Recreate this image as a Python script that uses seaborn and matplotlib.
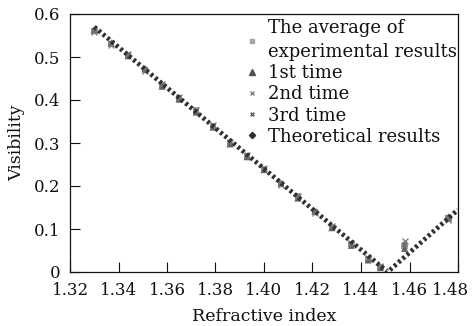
import matplotlib
matplotlib.use("Agg")
import matplotlib.pyplot as plt
import matplotlib.transforms as mtransforms
from matplotlib.lines import Line2D
import seaborn as sns

sns.set_theme(style="ticks")
plt.rcParams['font.family'] = ['DejaVu Serif']
plt.rcParams['mathtext.fontset'] = 'dejavuserif'

# Experimental data
n_exp = [1.330, 1.337, 1.344, 1.351, 1.358, 1.365, 1.372, 1.379, 1.386, 1.393,
         1.400, 1.407, 1.414, 1.421, 1.428, 1.436, 1.443, 1.448, 1.458, 1.476]
v_avg = [0.560, 0.530, 0.505, 0.470, 0.435, 0.405, 0.375, 0.340, 0.300, 0.270,
         0.240, 0.205, 0.175, 0.140, 0.105, 0.065, 0.030, 0.012, 0.060, 0.125]
v_1st = [0.563, 0.533, 0.503, 0.473, 0.432, 0.402, 0.372, 0.337, 0.298, 0.268,
         0.238, 0.207, 0.172, 0.142, 0.103, 0.062, 0.028, 0.010, 0.055, 0.128]
v_2nd = [0.558, 0.528, 0.507, 0.468, 0.437, 0.407, 0.377, 0.342, 0.302, 0.272,
         0.242, 0.203, 0.177, 0.138, 0.107, 0.067, 0.032, 0.014, 0.072, 0.122]
v_3rd = [0.561, 0.531, 0.504, 0.471, 0.434, 0.404, 0.374, 0.339, 0.301, 0.269,
         0.239, 0.206, 0.174, 0.141, 0.104, 0.064, 0.031, 0.011, 0.064, 0.126]

# Theoretical V curve
n_th = [1.330, 1.451, 1.480]
v_th = [0.570, 0.000, 0.145]

xticks = [1.32, 1.34, 1.36, 1.38, 1.40, 1.42, 1.44, 1.46, 1.48]
xticklabels = ["1.32", "1.34", "1.36", "1.38", "1.40", "1.42", "1.44", "1.46", "1.48"]
yticks = [0, 0.1, 0.2, 0.3, 0.4, 0.5, 0.6]
yticklabels = ["0", "0.1", "0.2", "0.3", "0.4", "0.5", "0.6"]

fig = plt.figure(figsize=(4.73, 3.26), dpi=100)
ax = fig.add_axes([70/473, 1-272/326, 388/473, 258/326])

sns.scatterplot(x=n_exp, y=v_avg, marker='s', s=22, color='#a0a0a0', edgecolor='none',
                label='The average of\nexperimental results', ax=ax, zorder=3)
sns.scatterplot(x=n_exp, y=v_1st, marker='^', s=26, color='#606060', edgecolor='none',
                label='1st time', ax=ax, zorder=3)
sns.scatterplot(x=n_exp, y=v_2nd, marker='x', s=18, color='#808080', linewidth=1.0,
                label='2nd time', ax=ax, zorder=3)
sns.scatterplot(x=n_exp, y=v_3rd, marker='X', s=18, color='#707070', edgecolor='none',
                label='3rd time', ax=ax, zorder=3)
sns.lineplot(x=n_th, y=v_th, color='#303030', linewidth=3.4, linestyle=(0, (0.6, 0.6)),
             label='Theoretical results', ax=ax, zorder=4, sort=False)

ax.set_xlim(1.32, 1.48)
ax.set_ylim(0, 0.6)
ax.set_xticks(xticks)
ax.set_xticklabels(xticklabels)
ax.set_yticks(yticks)
ax.set_yticklabels(yticklabels)
ax.tick_params(direction='in', length=7, width=0.8, labelsize=12, colors='#111111',
               top=False, right=False)
ax.tick_params(axis='x', pad=7.5)
ax.tick_params(axis='y', pad=7)
for sp in ax.spines.values():
    sp.set_color('#111111')
    sp.set_linewidth(0.9)
ax.set_xlabel('Refractive index', fontsize=12.5, color='#111111', labelpad=6)
ax.set_ylabel('Visibility', fontsize=12.5, color='#111111', labelpad=6)

# shift last x tick label left so it stays inside the figure
lbl = ax.get_xticklabels()[-1]
lbl.set_transform(lbl.get_transform() + mtransforms.ScaledTranslation(-7/100, 0, fig.dpi_scale_trans))

handles, labels = ax.get_legend_handles_labels()
handles = [
    Line2D([], [], marker='s', linestyle='none', color='#a8a8a8', markersize=3.5),
    Line2D([], [], marker='^', linestyle='none', color='#505050', markersize=4),
    Line2D([], [], marker='x', linestyle='none', color='#707070', markersize=3.5, markeredgewidth=0.9),
    Line2D([], [], marker='X', linestyle='none', color='#606060', markersize=3.5, markeredgewidth=0),
    Line2D([], [], marker='D', linestyle='none', color='#303030', markersize=3.2),
]
leg = ax.legend(handles, labels, loc='upper left', bbox_to_anchor=(0.455, 0.98),
                frameon=False, fontsize=13, handlelength=0.6, handletextpad=0.6,
                labelspacing=0.18, borderpad=0, borderaxespad=0)
for t in leg.get_texts():
    t.set_color('#111111')
    t.set_linespacing(1.4)

fig.savefig('out.png', dpi=100)
